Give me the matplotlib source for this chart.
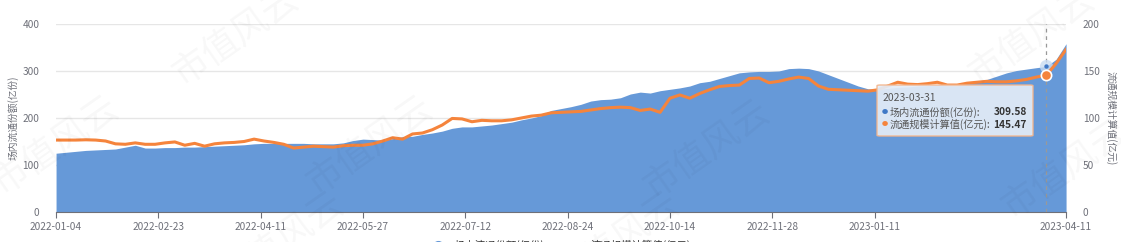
import numpy as np
import matplotlib
matplotlib.use("Agg")
import matplotlib.pyplot as plt
from matplotlib.lines import Line2D
from matplotlib.patches import FancyBboxPatch

plt.rcParams['font.family'] = ['Noto Sans CJK SC', 'DejaVu Sans']

# trading-day index (every 3rd day from 2022-01-04 to 2023-04-11)
idx = np.arange(0, 307, 3)

# 场内流通份额(亿份) - left axis
shares = [125, 127, 129, 131, 132, 133, 134, 138, 142, 136,
          136, 137, 137, 138, 138, 139, 140, 141, 142, 143,
          145, 146, 146, 146, 146, 146, 145, 145, 145, 147,
          152, 155, 154, 153, 156, 160, 161, 165, 168, 172,
          178, 181, 181, 183, 185, 188, 191, 196, 200, 205,
          216, 220, 224, 229, 236, 239, 240, 243, 251, 255,
          253, 258, 261, 264, 268, 275, 278, 284, 290, 296,
          298, 299, 299, 300, 305, 306, 305, 300, 292, 284,
          276, 268, 262, 261, 263, 265, 266, 268, 269, 271,
          272, 273, 275, 276, 282, 289, 296, 301, 304, 307,
          309.58, 325, 358]

# 流通规模计算值(亿元) - right axis
scale = [76.5, 76.5, 76.5, 76.8, 76.5, 75.5, 72.5, 72.0, 73.5, 72.0,
         72.0, 73.5, 74.5, 71.0, 73.0, 70.0, 72.5, 73.5, 74.0, 75.0,
         77.5, 75.5, 74.0, 72.0, 68.0, 69.0, 70.0, 69.5, 69.0, 70.5,
         71.0, 71.0, 72.5, 75.5, 79.0, 77.5, 83.0, 84.0, 87.5, 92.5,
         99.5, 99.0, 96.0, 97.5, 97.0, 97.0, 98.0, 100.0, 102.0, 103.0,
         105.5, 106.0, 106.5, 107.0, 108.5, 110.0, 111.0, 111.5, 111.0, 108.0,
         109.5, 106.0, 121.0, 124.5, 121.0, 126.0, 130.0, 133.5, 134.5, 135.0,
         142.0, 142.5, 137.5, 139.0, 141.5, 143.5, 142.0, 134.0, 130.5, 130.0,
         129.5, 129.0, 128.5, 130.0, 134.0, 138.0, 136.0, 135.5, 136.5, 138.0,
         135.0, 135.0, 137.0, 138.0, 139.0, 138.5, 138.5, 139.5, 141.0, 143.5,
         145.47, 158.0, 173.0]

tick_pos = [0, 31, 62, 93, 124, 155, 186, 217, 248, 306]
tick_labels = ['2022-01-04', '2022-02-23', '2022-04-11', '2022-05-27', '2022-07-12',
               '2022-08-24', '2022-10-14', '2022-11-28', '2023-01-11', '2023-04-11']

hover = 100  # 2023-03-31
hover_date = '2023-03-31'

blue = '#6699d8'
orange = '#f5843c'
gray = '#6e7079'

fig = plt.figure(figsize=(11.21, 2.42), dpi=100)
ax = fig.add_axes([0.05, 0.124, 0.901, 0.777])
ax2 = ax.twinx()

# faint watermark
for wx, wy in [(0.21, 0.85), (0.05, 0.40), (0.33, 0.40), (0.63, 0.38),
               (0.92, 0.85), (0.95, 0.30), (0.25, 0.0), (0.55, 0.0)]:
    fig.text(wx, wy, '市值风云', fontsize=26, color='#000000', alpha=0.03,
             rotation=35, ha='center', va='center', zorder=0)

ax.fill_between(idx, shares, 0, color=blue, lw=0, zorder=2)
ax2.plot(idx, scale, color=orange, lw=2.2, zorder=3)

ax.set_xlim(0, 306)
ax.set_ylim(0, 400)
ax2.set_ylim(0, 200)
ax.set_yticks([0, 100, 200, 300, 400])
ax2.set_yticks([0, 50, 100, 150, 200])
ax.grid(axis='y', color='#e6e6e6', lw=1)
ax.set_axisbelow(True)
ax.set_xticks(tick_pos)
ax.set_xticklabels(tick_labels)

for a in (ax, ax2):
    for s in a.spines.values():
        s.set_visible(False)
    a.tick_params(axis='y', length=0, labelsize=7.3, colors=gray, pad=12)
ax.spines['bottom'].set_visible(True)
ax.spines['bottom'].set_color(gray)
ax.tick_params(axis='x', length=4, color=gray, labelsize=7.3, labelcolor=gray, pad=3)

ax.set_ylabel('场内流通份额(亿份)', fontsize=7, color=gray, labelpad=3)
ax2.set_ylabel('流通规模计算值(亿元)', fontsize=7, color=gray, rotation=-90, labelpad=12)

# hover state
hx = idx[hover]
ax.axvline(hx, color='#999999', lw=0.9, ls=(0, (3, 3)), zorder=4)
ax.scatter([hx], [shares[hover]], s=90, color='#c9dcf2', alpha=0.8, zorder=5, lw=0)
ax.scatter([hx], [shares[hover]], s=10, color='#3f78c6', zorder=6, lw=0)
ax2.scatter([hx], [scale[hover]], s=55, color=orange, edgecolor='white', lw=1.2, zorder=7)

# tooltip
bx0, by0, bx1, by1 = 877 / 1121, 1 - 136 / 242, 1033 / 1121, 1 - 85 / 242
fig.patches.append(FancyBboxPatch((bx0, by0), bx1 - bx0, by1 - by0,
                                  boxstyle='round,pad=0,rounding_size=0.003',
                                  transform=fig.transFigure, facecolor='#e4ecf7',
                                  edgecolor='#f3b58c', lw=1, alpha=0.92, zorder=10))
fig.text(883 / 1121, 1 - 98 / 242, hover_date, fontsize=7.5, color='#555555', va='center', zorder=11)
rows = [('场内流通份额(亿份):', shares[hover], '#3f78c6'),
        ('流通规模计算值(亿元):', scale[hover], orange)]
for i, (name, val, c) in enumerate(rows):
    yy = 1 - (112 + i * 12.5) / 242
    fig.text(882 / 1121, yy, '●', fontsize=4.5, color=c, va='center', zorder=11)
    fig.text(890 / 1121, yy, name, fontsize=7.3, color='#555555', va='center', zorder=11)
    fig.text(1027 / 1121, yy, f'{val:.2f}', fontsize=7.3, color='#333333', fontweight='bold',
             va='center', ha='right', zorder=11)

handles = [Line2D([], [], color=blue, marker='o', ls='none', markersize=7),
           Line2D([], [], color=orange, marker='o', lw=2, markersize=5)]
fig.legend(handles, ['场内流通份额(亿份)', '流通规模计算值(亿元)'], loc='center',
           bbox_to_anchor=(0.5, -0.015), ncol=2, frameon=False, fontsize=7.5,
           labelcolor='#333333', handlelength=1.6, columnspacing=2)

fig.savefig('out.png', dpi=100)
